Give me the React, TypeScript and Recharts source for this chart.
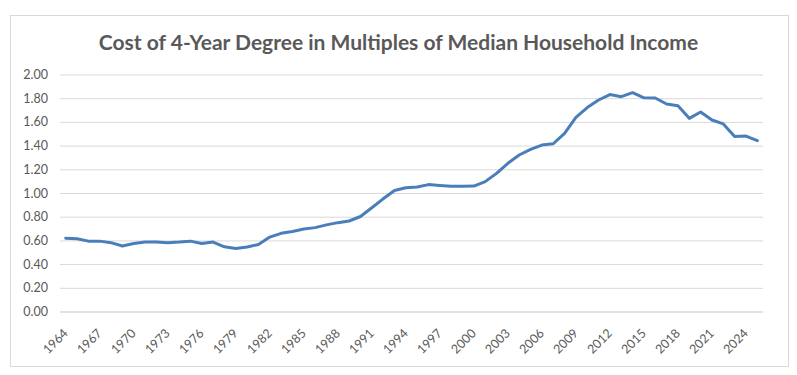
import React from "react";
import { LineChart, Line, XAxis, YAxis, CartesianGrid } from "recharts";

const years: number[] = [
  1964, 1965, 1966, 1967, 1968, 1969, 1970, 1971, 1972, 1973, 1974, 1975, 1976, 1977, 1978, 1979,
  1980, 1981, 1982, 1983, 1984, 1985, 1986, 1987, 1988, 1989, 1990, 1991, 1992, 1993, 1994, 1995,
  1996, 1997, 1998, 1999, 2000, 2001, 2002, 2003, 2004, 2005, 2006, 2007, 2008, 2009, 2010, 2011,
  2012, 2013, 2014, 2015, 2016, 2017, 2018, 2019, 2020, 2021, 2022, 2023, 2024, 2025,
];

const costMultiples: number[] = [
  0.622, 0.618, 0.598, 0.598, 0.585, 0.557, 0.578, 0.59, 0.59, 0.585, 0.59, 0.598, 0.578, 0.59, 0.55, 0.535,
  0.548, 0.57, 0.632, 0.664, 0.68, 0.7, 0.712, 0.735, 0.754, 0.768, 0.806, 0.88, 0.955, 1.025, 1.048, 1.055,
  1.075, 1.068, 1.062, 1.062, 1.063, 1.1, 1.17, 1.255, 1.325, 1.373, 1.409, 1.42, 1.508, 1.643, 1.725, 1.789,
  1.835, 1.817, 1.851, 1.807, 1.806, 1.755, 1.741, 1.634, 1.688, 1.62, 1.587, 1.48, 1.485, 1.446,
];

const yTicks: number[] = [0, 0.2, 0.4, 0.6, 0.8, 1.0, 1.2, 1.4, 1.6, 1.8, 2.0];

const title = "Cost of 4-Year Degree in Multiples of Median Household Income";

const data = years.map((y, i) => ({ year: String(y), value: costMultiples[i] }));

const FONT = "Lato, 'Open Sans', sans-serif";
const TEXT = "#595959";

const XTick = (props: any) => {
  const { x, y, payload } = props;
  const ax = x + 3;
  const ay = y + 14;
  return (
    <text
      x={ax}
      y={ay}
      transform={`rotate(-45, ${ax}, ${ay})`}
      textAnchor="end"
      fill={TEXT}
      fontSize={12.5}
      fontFamily={FONT}
    >
      {payload.value}
    </text>
  );
};

const YTick = (props: any) => {
  const { y, payload } = props;
  return (
    <text x={48} y={y} dy={4} textAnchor="end" fill={TEXT} fontSize={12.5} fontFamily={FONT}>
      {Number(payload.value).toFixed(2)}
    </text>
  );
};

export default function App() {
  return (
    <div style={{ position: "absolute", left: 0, top: 0, width: 797, height: 375, background: "#fff" }}>
      <div
        style={{
          position: "absolute",
          left: 10,
          top: 15,
          width: 777,
          height: 350,
          border: "1px solid #d9d9d9",
        }}
      />
      <div
        style={{
          position: "absolute",
          left: 0,
          top: 29,
          width: 797,
          textAlign: "center",
          fontFamily: FONT,
          fontWeight: 700,
          fontSize: 21,
          color: TEXT,
          lineHeight: "26px",
        }}
      >
        {title}
      </div>
      <div style={{ position: "absolute", left: 0, top: 0 }}>
        <LineChart
          width={797}
          height={375}
          data={data}
          margin={{ top: 75, right: 34, bottom: 0, left: 0 }}
        >
          <CartesianGrid vertical={false} stroke="#d9d9d9" strokeWidth={1} />
          <XAxis
            dataKey="year"
            type="category"
            interval={2}
            padding={{ left: 5.67, right: 5.67 }}
            axisLine={{ stroke: "#d9d9d9" }}
            tickLine={false}
            tick={<XTick />}
            height={63}
          />
          <YAxis
            domain={[0, 2]}
            ticks={yTicks}
            axisLine={false}
            tickLine={false}
            tick={<YTick />}
            width={60}
            interval={0}
          />
          <Line
            type="linear"
            dataKey="value"
            stroke="#4a7ebb"
            strokeWidth={3}
            dot={false}
            isAnimationActive={false}
            strokeLinejoin="round"
            strokeLinecap="round"
          />
        </LineChart>
      </div>
    </div>
  );
}
